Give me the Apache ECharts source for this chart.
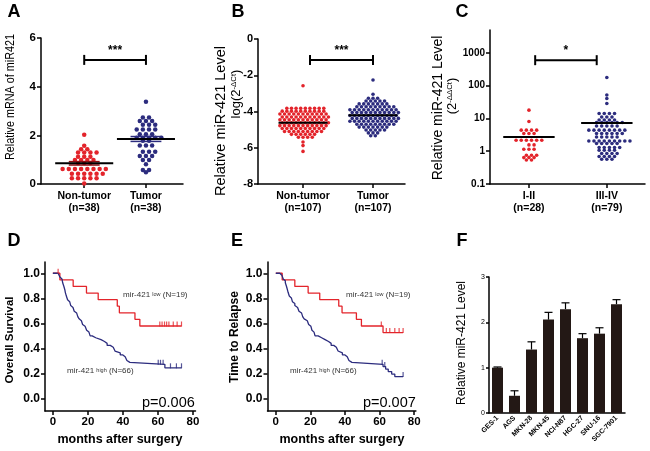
<!DOCTYPE html>
<html>
<head>
<meta charset="utf-8">
<script src="https://cdn.jsdelivr.net/npm/echarts@6/dist/echarts.min.js"></script>
<style>
html, body { margin: 0; padding: 0; background: #fff; }
#chart { width: 650px; height: 451px; }
</style>
</head>
<body>
<div id="chart"></div>
<script>
// ---- values ----
// A/B/C dot plots: rows of [value, number of dots at about that value]
const aGroups = ['Non-tumor\n(n=38)', 'Tumor\n(n=38)']
const aNonTumor = [[2.02, 1], [1.57, 1], [1.43, 2], [1.29, 4], [1.12, 3], [0.99, 4], [0.86, 3], [0.62, 8], [0.42, 6], [0.24, 5], [0.02, 1]]
const aTumor = [[3.38, 1], [2.73, 2], [2.59, 3], [2.43, 3], [2.24, 4], [2.04, 3], [1.9, 5], [1.78, 2], [1.58, 3], [1.33, 3], [1.15, 3], [0.99, 2], [0.81, 1], [0.58, 2], [0.48, 1]]
const aMeans = [0.85, 1.85]
const aSem = [0.07, 0.1]

const bGroups = ['Non-tumor\n(n=107)', 'Tumor\n(n=107)']
const bNonTumor = [[-2.58, 1], [-3.82, 9], [-3.98, 10], [-4.14, 11], [-4.3, 11], [-4.46, 11], [-4.62, 11], [-4.78, 11], [-4.94, 10], [-5.1, 9], [-5.26, 6], [-5.42, 4], [-5.68, 1], [-5.88, 1], [-6.2, 1]]
const bTumor = [[-2.26, 1], [-3.05, 1], [-3.27, 3], [-3.42, 5], [-3.58, 7], [-3.74, 9], [-3.9, 11], [-4.06, 11], [-4.22, 11], [-4.38, 11], [-4.54, 11], [-4.7, 9], [-4.86, 7], [-5.02, 5], [-5.18, 3], [-5.34, 2]]
const bMeans = [-4.62, -4.2]

const cGroups = ['I-II\n(n=28)', 'III-IV\n(n=79)']
const cEarly = [[17.9, 1], [8.1, 1], [4.4, 4], [3.47, 3], [2.17, 6], [1.56, 2], [1.15, 3], [0.75, 3], [0.64, 3], [0.54, 2]]
const cLate = [[178, 1], [52, 1], [40.5, 1], [28.6, 1], [14.1, 4], [11.1, 3], [9.0, 4], [7.5, 6], [5.9, 5], [4.4, 8], [3.47, 6], [2.73, 5], [2.06, 9], [1.72, 5], [1.3, 5], [1.07, 4], [0.85, 4], [0.69, 4], [0.57, 3]]
const cMeans = [2.7, 7.3]

// D/E Kaplan-Meier: times (months) where the curve steps, and the level after each step
const dLowT = [0, 4, 11.6, 19.2, 25.9, 36.8, 38, 46.9, 49.7, 73.5]
const dLowS = [1, 0.947, 0.895, 0.842, 0.789, 0.737, 0.684, 0.632, 0.579, 0.579]
const dLowCens = [3, 61.1, 62.4, 63.8, 65, 66.3, 68.8, 71, 73.5]
const dHighT = [0, 3, 4, 4.6, 5.2, 5.6, 6, 6.3, 6.6, 6.9, 7.1, 7.4, 7.7, 8, 8.4, 9, 9.6, 10.2, 10.9, 11.5, 12.2, 13, 13.6, 14.3, 15, 15.6, 16.3, 17, 17.6, 18.4, 19.3, 20, 20.6, 21.3, 22.5, 24.5, 27.5, 29.5, 31, 32.8, 34.5, 35.5, 36.5, 38.5, 40, 41.3, 42.3, 43, 44, 64, 73.5]
const dHighS = [1, 0.985, 0.97, 0.955, 0.94, 0.924, 0.909, 0.894, 0.879, 0.864, 0.848, 0.833, 0.818, 0.803, 0.788, 0.773, 0.758, 0.742, 0.727, 0.712, 0.697, 0.682, 0.667, 0.652, 0.636, 0.621, 0.606, 0.591, 0.576, 0.561, 0.545, 0.53, 0.515, 0.5, 0.485, 0.47, 0.455, 0.44, 0.424, 0.409, 0.394, 0.379, 0.364, 0.348, 0.333, 0.318, 0.303, 0.288, 0.273, 0.245, 0.245]
const dHighCens = [60.2, 61.5, 63, 67.2, 70.6, 73.5]

const eLowT = [0, 3.7, 11, 18.7, 25.4, 36.4, 38.3, 46.6, 49.5, 62, 73.6]
const eLowS = [1, 0.947, 0.895, 0.842, 0.789, 0.737, 0.684, 0.632, 0.579, 0.526, 0.526]
const eLowCens = [61, 63.9, 65.9, 68.8, 71.3, 73.6]
const eHighT = [0, 2.3, 3.5, 4.3, 5, 5.5, 5.9, 6.2, 6.5, 6.8, 7.1, 7.4, 7.8, 8.3, 9, 9.6, 10.3, 11, 11.8, 12.6, 13.4, 14.2, 14.9, 15.6, 16.4, 17.3, 18.2, 19, 19.7, 20.3, 20.9, 21.5, 22.1, 22.7, 24.5, 26.5, 28.5, 30.5, 32, 33.5, 35, 36, 37, 38.5, 40, 41.3, 42.3, 43, 44, 62, 63.5, 65, 67, 68.8, 73.6]
const eHighS = [1, 0.985, 0.97, 0.955, 0.94, 0.924, 0.909, 0.894, 0.879, 0.864, 0.848, 0.833, 0.818, 0.803, 0.788, 0.773, 0.758, 0.742, 0.727, 0.712, 0.697, 0.682, 0.667, 0.652, 0.636, 0.621, 0.606, 0.591, 0.576, 0.561, 0.545, 0.53, 0.515, 0.5, 0.485, 0.47, 0.455, 0.44, 0.424, 0.409, 0.394, 0.379, 0.364, 0.348, 0.333, 0.318, 0.303, 0.288, 0.273, 0.255, 0.235, 0.215, 0.195, 0.175, 0.175]
const eHighCens = [61.5, 63, 73.6]

// F: cell lines
const fCells = ['GES-1', 'AGS', 'MKN-28', 'MKN-45', 'NCI-N87', 'HGC-27', 'SNU-16', 'SGC-7901']
const fMean = [1.0, 0.38, 1.4, 2.06, 2.29, 1.65, 1.75, 2.4]
const fErr = [0.015, 0.11, 0.17, 0.16, 0.14, 0.1, 0.13, 0.1]

// ---- helpers ----
const FONT = 'Liberation Sans'
const RED = '#e3242b'
const NAVY = '#2c2c7e'

// lay each row of dots out side by side around its category,
// nudging rows that would sit straight above the previous one
function swarm(rows, cat, step) {
  const pts = []
  let prevParity = -1, shift = 0
  rows.forEach(([v, n]) => {
    const parity = n % 2
    shift = parity === prevParity ? (shift === 0 ? step / 2 : 0) : 0
    prevParity = parity
    for (let i = 0; i < n; i++) pts.push([cat + (i - (n - 1) / 2) * step + (n > 1 ? shift : 0), v])
  })
  return pts
}

function survAt(t, ts, ss) {
  let s = ss[0]
  for (let i = 0; i < ts.length; i++) if (ts[i] <= t) s = ss[i]
  return s
}

function axisLine() {
  return { show: true, onZero: false, lineStyle: { color: '#000', width: 1.5 } }
}
function axisTick(vals, len) {
  const t = { show: true, length: len || 4, lineStyle: { color: '#000', width: 1.5 } }
  if (vals) t.customValues = vals
  return t
}
function axisLabel(size, extra) {
  return Object.assign({ color: '#000', fontFamily: FONT, fontWeight: 'bold', fontSize: size, margin: 5 }, extra || {})
}

function dots(idx, rows, cat, step, color, size) {
  return {
    type: 'scatter', xAxisIndex: idx, yAxisIndex: idx, symbol: 'circle', symbolSize: size,
    itemStyle: { color: color, opacity: 1 }, data: swarm(rows, cat, step), z: 2
  }
}

function meanLines(idx, means, half) {
  return {
    type: 'custom', xAxisIndex: idx, yAxisIndex: idx, z: 5,
    data: means.map((m, i) => [i, m]),
    renderItem: (params, api) => {
      const c = api.value(0), v = api.value(1)
      const p0 = api.coord([c - half, v]), p1 = api.coord([c + half, v])
      return { type: 'line', shape: { x1: p0[0], y1: p0[1], x2: p1[0], y2: p1[1] }, style: { stroke: '#000', lineWidth: 2 } }
    }
  }
}

function semBars(idx, means, sems, half, colors) {
  return {
    type: 'custom', xAxisIndex: idx, yAxisIndex: idx, z: 4,
    data: means.map((m, i) => [i, m, sems[i]]),
    renderItem: (params, api) => {
      const c = api.value(0), v = api.value(1), e = api.value(2)
      const col = colors[params.dataIndex]
      const top = api.coord([c, v + e]), bot = api.coord([c, v - e])
      const l = api.coord([c - half, v])[0], r = api.coord([c + half, v])[0]
      const st = { stroke: col, lineWidth: 1.5 }
      return {
        type: 'group', children: [
          { type: 'line', shape: { x1: l, y1: top[1], x2: r, y2: top[1] }, style: st },
          { type: 'line', shape: { x1: l, y1: bot[1], x2: r, y2: bot[1] }, style: st }
        ]
      }
    }
  }
}

function bracket(idx, x0, x1, y, mark) {
  return {
    type: 'custom', xAxisIndex: idx, yAxisIndex: idx, z: 6,
    data: [[x0, x1, y]],
    renderItem: (params, api) => {
      const a = api.coord([api.value(0), api.value(2)]), b = api.coord([api.value(1), api.value(2)])
      const st = { stroke: '#000', lineWidth: 2 }
      return {
        type: 'group', children: [
          { type: 'line', shape: { x1: a[0], y1: a[1], x2: b[0], y2: b[1] }, style: st },
          { type: 'line', shape: { x1: a[0], y1: a[1] - 5, x2: a[0], y2: a[1] + 5 }, style: st },
          { type: 'line', shape: { x1: b[0], y1: b[1] - 5, x2: b[0], y2: b[1] + 5 }, style: st },
          { type: 'text', x: (a[0] + b[0]) / 2, y: a[1] - 9, style: { text: mark, fontSize: 12, fontWeight: 'bold', fontFamily: FONT, fill: '#000', align: 'center', verticalAlign: 'middle' } }
        ]
      }
    }
  }
}

function kmLine(idx, ts, ss, color) {
  return {
    type: 'line', xAxisIndex: idx, yAxisIndex: idx, step: 'end', symbol: 'none',
    lineStyle: { color: color, width: 1.3 }, data: ts.map((t, i) => [t, ss[i]]), z: 3
  }
}

function censor(idx, cens, ts, ss, color) {
  return {
    type: 'scatter', xAxisIndex: idx, yAxisIndex: idx, symbol: 'rect', symbolSize: [1.2, 5], symbolOffset: [0, -2],
    itemStyle: { color: color }, data: cens.map(t => [t, survAt(t, ts, ss)]), z: 4
  }
}

function text(x, y, str, size, weight, extra) {
  return Object.assign({
    type: 'text', x: x, y: y,
    style: { text: str, fontSize: size, fontWeight: weight || 'normal', fontFamily: FONT, fill: '#000', align: 'center', verticalAlign: 'middle' }
  }, extra || {})
}
function vtext(x, y, str, size, weight, scale, rich) {
  const el = text(x, y, str, size, weight, { rotation: Math.PI / 2, scaleX: scale || 1 })
  if (rich) el.style.rich = rich
  return el
}
const supRich = (size) => ({
  a: { fontSize: size, fontFamily: FONT, fill: '#000' },
  s: { fontSize: size * 0.6, fontFamily: FONT, fill: '#000', verticalAlign: 'top' }
})
function kmNote(x, y, str) {
  return {
    type: 'text', x: x, y: y,
    style: {
      text: str, align: 'left', verticalAlign: 'middle',
      rich: {
        a: { fontSize: 8, fontFamily: FONT, fill: '#333' },
        s: { fontSize: 5.5, fontFamily: FONT, fill: '#333', verticalAlign: 'top' }
      }
    }
  }
}
function pText(x, y, str) {
  return { type: 'text', x: x, y: y, style: { text: str, fontSize: 14.5, fontFamily: FONT, fill: '#000', align: 'left', verticalAlign: 'middle' } }
}

const chart = echarts.init(document.getElementById('chart'))

const kmTicks = [0, 0.2, 0.4, 0.6, 0.8, 1.0]
const monthTicks = [0, 20, 40, 60, 80]

const option = {
  animation: false,
  grid: [
    { left: 41, top: 38, width: 142, height: 146 },
    { left: 258, top: 39, width: 147, height: 145 },
    { left: 490, top: 30, width: 155, height: 154 },
    { left: 45, top: 262, width: 150.5, height: 149 },
    { left: 267.5, top: 262, width: 148.4, height: 149 },
    { left: 489, top: 277, width: 136, height: 136 }
  ],
  xAxis: [
    {
      gridIndex: 0, type: 'value', min: -0.7, max: 1.6, axisLine: axisLine(), axisTick: axisTick([0, 1]),
      axisLabel: axisLabel(10.5, { customValues: [0, 1], formatter: v => aGroups[Math.round(v)], lineHeight: 12, margin: 6 }),
      splitLine: { show: false }
    },
    {
      gridIndex: 1, type: 'value', min: -0.643, max: 1.457, axisLine: axisLine(), axisTick: axisTick([0, 1]),
      axisLabel: axisLabel(10.5, { customValues: [0, 1], formatter: v => bGroups[Math.round(v)], lineHeight: 12, margin: 6 }),
      splitLine: { show: false }
    },
    {
      gridIndex: 2, type: 'value', min: -0.5, max: 1.49, axisLine: axisLine(), axisTick: axisTick([0, 1]),
      axisLabel: axisLabel(10.5, { customValues: [0, 1], formatter: v => cGroups[Math.round(v)], lineHeight: 12, margin: 6 }),
      splitLine: { show: false }
    },
    {
      gridIndex: 3, type: 'value', min: -4.5, max: 81.5, axisLine: axisLine(), axisTick: axisTick(monthTicks),
      axisLabel: axisLabel(11.5, { customValues: monthTicks }), splitLine: { show: false }
    },
    {
      gridIndex: 4, type: 'value', min: -4.8, max: 81, axisLine: axisLine(), axisTick: axisTick(monthTicks),
      axisLabel: axisLabel(11.5, { customValues: monthTicks }), splitLine: { show: false }
    },
    {
      gridIndex: 5, type: 'category', data: fCells, axisLine: axisLine(), axisTick: { show: false },
      axisLabel: axisLabel(7, { rotate: 45, interval: 0, margin: 4 }), splitLine: { show: false }
    }
  ],
  yAxis: [
    {
      gridIndex: 0, type: 'value', min: 0, max: 6, interval: 2, axisLine: axisLine(), axisTick: axisTick(),
      axisLabel: axisLabel(11.5), splitLine: { show: false }
    },
    {
      gridIndex: 1, type: 'value', min: -8, max: 0, interval: 2, axisLine: axisLine(), axisTick: axisTick(),
      axisLabel: axisLabel(11), splitLine: { show: false }
    },
    {
      gridIndex: 2, type: 'log', logBase: 10, min: 0.1, max: 5000, axisLine: axisLine(), axisTick: axisTick(),
      axisLabel: axisLabel(10, { showMaxLabel: false, formatter: v => (v < 1 ? '0.1' : String(Math.round(v))) }),
      splitLine: { show: false }
    },
    {
      gridIndex: 3, type: 'value', min: -0.1, max: 1.09, axisLine: axisLine(), axisTick: axisTick(kmTicks),
      axisLabel: axisLabel(12, { customValues: kmTicks, formatter: v => v.toFixed(1) }), splitLine: { show: false }
    },
    {
      gridIndex: 4, type: 'value', min: -0.1, max: 1.09, axisLine: axisLine(), axisTick: axisTick(kmTicks),
      axisLabel: axisLabel(12, { customValues: kmTicks, formatter: v => v.toFixed(1) }), splitLine: { show: false }
    },
    {
      gridIndex: 5, type: 'value', min: 0, max: 3, interval: 1, axisLine: axisLine(), axisTick: axisTick(null, 3),
      axisLabel: axisLabel(7, { fontWeight: 'normal', margin: 4 }), splitLine: { show: false }
    }
  ],
  series: [
    // A
    dots(0, aNonTumor, 0, 0.1, RED, 4.5),
    dots(0, aTumor, 1, 0.1, NAVY, 4.5),
    semBars(0, aMeans, aSem, 0.25, ['#8a0f14', NAVY]),
    meanLines(0, aMeans, 0.47),
    bracket(0, 0, 1, 5.1, '***'),
    // B
    dots(1, bNonTumor, 0, 0.066, RED, 3.6),
    dots(1, bTumor, 1, 0.066, NAVY, 3.6),
    meanLines(1, bMeans, 0.35),
    bracket(1, 0.1, 1, -1.16, '***'),
    // C
    dots(2, cEarly, 0, 0.066, RED, 3.6),
    dots(2, cLate, 1, 0.066, NAVY, 3.6),
    meanLines(2, cMeans, 0.33),
    bracket(2, 0.08, 0.87, 600, '*'),
    // D
    kmLine(3, dLowT, dLowS, RED),
    kmLine(3, dHighT, dHighS, NAVY),
    censor(3, dLowCens, dLowT, dLowS, RED),
    censor(3, dHighCens, dHighT, dHighS, NAVY),
    // E
    kmLine(4, eLowT, eLowS, RED),
    kmLine(4, eHighT, eHighS, NAVY),
    censor(4, eLowCens, eLowT, eLowS, RED),
    censor(4, eHighCens, eHighT, eHighS, NAVY),
    // F
    {
      type: 'bar', xAxisIndex: 5, yAxisIndex: 5, barWidth: 11, data: fMean,
      itemStyle: { color: '#231815' }, z: 2
    },
    {
      type: 'custom', xAxisIndex: 5, yAxisIndex: 5, z: 3,
      data: fMean.map((m, i) => [i, m, fErr[i]]),
      renderItem: (params, api) => {
        const base = api.coord([api.value(0), api.value(1)])
        const top = api.coord([api.value(0), api.value(1) + api.value(2)])
        const st = { stroke: '#000', lineWidth: 1.2 }
        return {
          type: 'group', children: [
            { type: 'line', shape: { x1: base[0], y1: base[1], x2: top[0], y2: top[1] }, style: st },
            { type: 'line', shape: { x1: top[0] - 4, y1: top[1], x2: top[0] + 4, y2: top[1] }, style: st }
          ]
        }
      }
    }
  ],
  graphic: [
    // panel letters
    text(14, 12, 'A', 18, 'bold'),
    text(238, 12, 'B', 18, 'bold'),
    text(462, 12, 'C', 18, 'bold'),
    text(14, 241, 'D', 18, 'bold'),
    text(237, 241, 'E', 18, 'bold'),
    text(462, 241, 'F', 18, 'bold'),
    // axis titles
    vtext(10, 97, 'Relative mRNA of miR421', 13.5, 'normal', 0.8),
    vtext(221, 121, 'Relative miR-421 Level', 14.5, 'normal'),
    vtext(236, 94, '{a|log(2}{s|-ΔCt}{a|)}', 13, 'normal', 1, supRich(13)),
    vtext(438, 108, 'Relative miR-421 Level', 14, 'normal'),
    vtext(452, 96, '{a|(2}{s|-ΔΔCt}{a|)}', 13, 'normal', 1, supRich(13)),
    vtext(10, 340, 'Overall Survival', 11.5, 'bold'),
    vtext(235, 337, 'Time to Relapse', 12, 'bold'),
    vtext(462, 343, 'Relative miR-421 Level', 12, 'normal'),
    text(120, 440, 'months after surgery', 12.5, 'bold'),
    text(342, 440, 'months after surgery', 12.5, 'bold'),
    // KM notes
    kmNote(123, 295, '{a|mir-421 }{s|low}{a| (N=19)}'),
    kmNote(67, 371, '{a|mir-421 }{s|high}{a| (N=66)}'),
    kmNote(346, 295, '{a|mir-421 }{s|low}{a| (N=19)}'),
    kmNote(290, 371, '{a|mir-421 }{s|high}{a| (N=66)}'),
    pText(142, 403, 'p=0.006'),
    pText(363, 403, 'p=0.007')
  ]
}

chart.setOption(option)
</script>
</body>
</html>
